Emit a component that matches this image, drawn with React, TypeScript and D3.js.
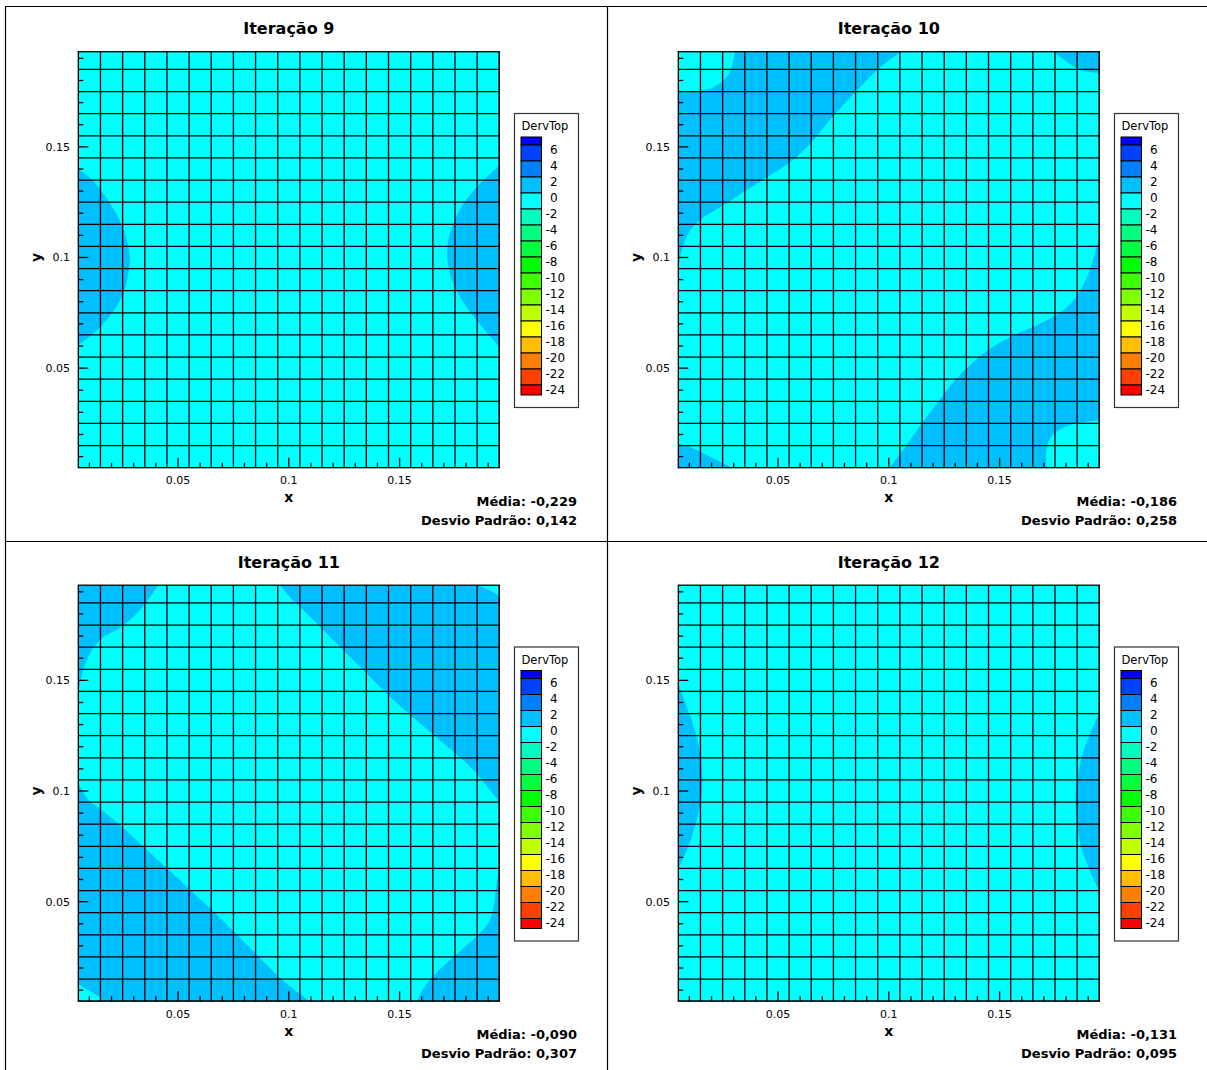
import React from 'react';
import * as d3 from 'd3';

type Pt = [number, number];
interface Region {
  band: number;
  curve: Pt[];
  close: Pt[];
}

// panel texts
const panelTitles = ['Iteração 9', 'Iteração 10', 'Iteração 11', 'Iteração 12'];
const meanLabels = ['-0,229', '-0,186', '-0,090', '-0,131'];
const stdLabels = ['0,142', '0,258', '0,307', '0,095'];

// mesh nodes (cell centres) and axis ranges
const meshNodes = [
  0.005, 0.015, 0.025, 0.035, 0.045, 0.055, 0.065, 0.075, 0.085, 0.095,
  0.105, 0.115, 0.125, 0.135, 0.145, 0.155, 0.165, 0.175, 0.185, 0.195,
];
const xDomain: [number, number] = [0.005, 0.195];
const yDomain: [number, number] = [0.005, 0.193];
const axisTicks = [
  0.01, 0.02, 0.03, 0.04, 0.05, 0.06, 0.07, 0.08, 0.09, 0.1,
  0.11, 0.12, 0.13, 0.14, 0.15, 0.16, 0.17, 0.18, 0.19,
];
const majorTicks = [0.05, 0.1, 0.15];
const majorTickLabels = ['0.05', '0.1', '0.15'];

// contour legend
const legendTitle = 'DervTop';
const legendLevels = [6, 4, 2, 0, -2, -4, -6, -8, -10, -12, -14, -16, -18, -20, -22, -24];
const bandColors = [
  '#0000ff', '#0040ff', '#0080ff', '#00bfff', '#00ffff', '#00ffbf', '#00ff80', '#00ff40',
  '#00ff00', '#40ff00', '#80ff00', '#bfff00', '#ffff00', '#ffbf00', '#ff8000', '#ff4000', '#ff0000',
];
const backgroundBand = 4; // -2 .. 0

// regions of the DervTop field that fall in another band
const iter9Regions: Region[] = [
  {
    band: 3,
    curve: [[0.005, 0.140], [0.0118, 0.1345], [0.0193, 0.1245], [0.0246, 0.1148], [0.0276, 0.1047],
      [0.0283, 0.0987], [0.0276, 0.0927], [0.0253, 0.0836], [0.02, 0.0746], [0.0118, 0.0656], [0.005, 0.0603]],
    close: [[0, 0.0603], [0, 0.140]],
  },
  {
    band: 3,
    curve: [[0.195, 0.1415], [0.1848, 0.1318], [0.1765, 0.1205], [0.1727, 0.1107], [0.1715, 0.1032],
      [0.1727, 0.0927], [0.1773, 0.0821], [0.1848, 0.0716], [0.195, 0.0596]],
    close: [[0.2, 0.0596], [0.2, 0.1415]],
  },
];

const iter10Regions: Region[] = [
  {
    band: 3,
    curve: [[0.005, 0.0942], [0.0065, 0.1032], [0.0103, 0.1122], [0.0155, 0.1175], [0.0238, 0.1227],
      [0.0343, 0.1295], [0.0449, 0.1363], [0.0554, 0.143], [0.0644, 0.1513], [0.075, 0.1641],
      [0.0855, 0.1754], [0.0953, 0.1852], [0.105, 0.1927]],
    close: [[0.105, 0.2], [0, 0.2], [0, 0.0942]],
  },
  {
    band: 4,
    curve: [[0.0305, 0.1927], [0.0295, 0.1874], [0.0268, 0.1814], [0.0208, 0.1769], [0.0133, 0.175], [0.005, 0.1746]],
    close: [[0, 0.1746], [0, 0.2], [0.0305, 0.2]],
  },
  {
    band: 3,
    curve: [[0.175, 0.1927], [0.1795, 0.189], [0.1855, 0.1852], [0.1908, 0.1837], [0.195, 0.1834]],
    close: [[0.2, 0.1834], [0.2, 0.2], [0.175, 0.2]],
  },
  {
    band: 3,
    curve: [[0.195, 0.1092], [0.193, 0.1017], [0.19, 0.0927], [0.1855, 0.0836], [0.1788, 0.0761],
      [0.1682, 0.0701], [0.1562, 0.0648], [0.1457, 0.0588], [0.1374, 0.0521], [0.1306, 0.0453],
      [0.1239, 0.037], [0.1171, 0.028], [0.1111, 0.0197], [0.1058, 0.0122], [0.1005, 0.005]],
    close: [[0.1005, 0], [0.2, 0], [0.2, 0.1092]],
  },
  {
    band: 4,
    curve: [[0.195, 0.0265], [0.1863, 0.0253], [0.178, 0.0227], [0.1727, 0.0182], [0.1709, 0.0122], [0.1712, 0.005]],
    close: [[0.1712, 0], [0.2, 0], [0.2, 0.0265]],
  },
  {
    band: 3,
    curve: [[0.005, 0.016], [0.0118, 0.0137], [0.0193, 0.01], [0.0268, 0.0062], [0.0291, 0.005]],
    close: [[0.0291, 0], [0, 0], [0, 0.016]],
  },
];

const iter11Regions: Region[] = [
  {
    band: 3,
    curve: [[0.0411, 0.193], [0.0358, 0.1855], [0.0306, 0.1794], [0.0231, 0.1734], [0.0155, 0.1689],
      [0.011, 0.1636], [0.008, 0.1569], [0.0061, 0.1501], [0.0052, 0.1448]],
    close: [[0, 0.1448], [0, 0.2], [0.0411, 0.2]],
  },
  {
    band: 3,
    curve: [[0.096, 0.193], [0.1005, 0.1877], [0.1081, 0.1802], [0.1171, 0.1712], [0.1261, 0.1621],
      [0.1351, 0.1531], [0.1442, 0.1441], [0.1532, 0.1358], [0.1637, 0.1268], [0.1742, 0.1178],
      [0.1833, 0.1095], [0.1908, 0.1005], [0.195, 0.0952]],
    close: [[0.2, 0.0952], [0.2, 0.2], [0.096, 0.2]],
  },
  {
    band: 4,
    curve: [[0.1848, 0.193], [0.1901, 0.1911], [0.195, 0.1881]],
    close: [[0.2, 0.1881], [0.2, 0.2], [0.1848, 0.2]],
  },
  {
    band: 3,
    curve: [[0.005, 0.1035], [0.0095, 0.096], [0.0163, 0.0907], [0.0246, 0.0839], [0.0343, 0.0749],
      [0.0449, 0.0652], [0.0554, 0.0554], [0.0659, 0.0456], [0.0765, 0.0351], [0.087, 0.0245],
      [0.096, 0.0155], [0.1043, 0.0088], [0.1096, 0.005]],
    close: [[0.1096, 0], [0, 0], [0, 0.1035]],
  },
  {
    band: 4,
    curve: [[0.005, 0.0125], [0.0095, 0.01], [0.014, 0.0073], [0.0163, 0.005]],
    close: [[0.0163, 0], [0, 0], [0, 0.0125]],
  },
  {
    band: 3,
    curve: [[0.195, 0.0652], [0.1935, 0.0569], [0.1925, 0.0479], [0.19, 0.0403], [0.1848, 0.0343],
      [0.1773, 0.0276], [0.1697, 0.0208], [0.1637, 0.0148], [0.16, 0.0095], [0.158, 0.005]],
    close: [[0.158, 0], [0.2, 0], [0.2, 0.0652]],
  },
];

const iter12Regions: Region[] = [
  {
    band: 3,
    curve: [[0.005, 0.1486], [0.008, 0.1403], [0.0115, 0.1305], [0.014, 0.1215], [0.0155, 0.1125],
      [0.0158, 0.102], [0.0148, 0.093], [0.0125, 0.0839], [0.0095, 0.0749], [0.0058, 0.0667], [0.005, 0.0652]],
    close: [[0, 0.0652], [0, 0.1486]],
  },
  {
    band: 3,
    curve: [[0.195, 0.1351], [0.1915, 0.1276], [0.1878, 0.1178], [0.1855, 0.1081], [0.1843, 0.0975],
      [0.1848, 0.0869], [0.1863, 0.0764], [0.19, 0.0659], [0.195, 0.0546]],
    close: [[0.2, 0.0546], [0.2, 0.1351]],
  },
];

const panelRegions = [iter9Regions, iter10Regions, iter11Regions, iter12Regions];
const panelOffsets: Pt[] = [[0, 0], [600, 0], [0, 533.5], [600, 533.5]];

const W = 1207;
const H = 1070;
const plot = { left: 78.3, right: 499.3, top: 51.7, bottom: 467.7 };
const sansFont = '"DejaVu Sans", Verdana, sans-serif';

const isMajor = (t: number) => majorTicks.some(m => Math.abs(m - t) < 1e-9);

function Panel({ index }: { index: number }) {
  const [ox, oy] = panelOffsets[index];
  const x = d3.scaleLinear().domain(xDomain).range([plot.left, plot.right]);
  const y = d3.scaleLinear().domain(yDomain).range([plot.bottom, plot.top]);
  const line = d3.line<Pt>().x(d => x(d[0])).y(d => y(d[1])).curve(d3.curveCatmullRom.alpha(0.5));
  const regionPath = (r: Region) =>
    (line(r.curve) || '') + r.close.map(p => `L${x(p[0])},${y(p[1])}`).join('') + 'Z';

  const ls = d3.scaleLinear().domain([6, -24]).range([145, 385]);
  const clipId = `plot-clip-${index}`;
  const midX = (plot.left + plot.right) / 2;

  return (
    <g transform={`translate(${ox},${oy})`}>
      <text x={midX} y={34} textAnchor="middle" fontFamily={sansFont} fontWeight="bold" fontSize={16}>
        {panelTitles[index]}
      </text>

      <defs>
        <clipPath id={clipId}>
          <rect x={plot.left} y={plot.top} width={plot.right - plot.left} height={plot.bottom - plot.top} />
        </clipPath>
      </defs>

      <g clipPath={`url(#${clipId})`}>
        <rect x={plot.left} y={plot.top} width={plot.right - plot.left} height={plot.bottom - plot.top}
          fill={bandColors[backgroundBand]} />
        {panelRegions[index].map((r, i) => (
          <path key={i} d={regionPath(r)} fill={bandColors[r.band]} stroke="none" />
        ))}
        {meshNodes.map(v => (
          <line key={`vx${v}`} x1={x(v)} x2={x(v)} y1={plot.top} y2={plot.bottom} stroke="#000" strokeWidth={1.3} />
        ))}
        {meshNodes.filter(v => v <= yDomain[1]).map(v => (
          <line key={`hy${v}`} x1={plot.left} x2={plot.right} y1={y(v)} y2={y(v)} stroke="#000" strokeWidth={1.3} />
        ))}
      </g>
      <rect x={plot.left} y={plot.top} width={plot.right - plot.left} height={plot.bottom - plot.top}
        fill="none" stroke="#000" strokeWidth={1.3} />

      {/* ticks point inwards */}
      {axisTicks.map(t => (
        <line key={`ty${t}`} x1={plot.left} x2={plot.left + (isMajor(t) ? 10 : 5)} y1={y(t)} y2={y(t)}
          stroke="#000" strokeWidth={1.3} />
      ))}
      {axisTicks.map(t => (
        <line key={`tx${t}`} y1={plot.bottom} y2={plot.bottom - (isMajor(t) ? 10 : 5)} x1={x(t)} x2={x(t)}
          stroke="#000" strokeWidth={1.3} />
      ))}
      {majorTicks.map((t, i) => (
        <text key={`ly${t}`} x={70} y={y(t) + 4} textAnchor="end" fontFamily={sansFont} fontSize={11}>
          {majorTickLabels[i]}
        </text>
      ))}
      {majorTicks.map((t, i) => (
        <text key={`lx${t}`} x={x(t)} y={484} textAnchor="middle" fontFamily={sansFont} fontSize={11}>
          {majorTickLabels[i]}
        </text>
      ))}
      <text x={midX} y={502} textAnchor="middle" fontFamily={sansFont} fontWeight="bold" fontSize={14}>x</text>
      <text transform={`translate(41,${y(0.1)}) rotate(-90)`} textAnchor="middle" fontFamily={sansFont}
        fontWeight="bold" fontSize={14}>y</text>

      {/* legend */}
      <rect x={514.5} y={113.5} width={64} height={294} fill="#fff" stroke="#333" strokeWidth={1.2} />
      <text x={521.5} y={130} fontFamily={sansFont} fontSize={11.5}>{legendTitle}</text>
      {bandColors.map((c, i) => {
        const top = i === 0 ? ls(7) : ls(legendLevels[i - 1]);
        const bottom = i === bandColors.length - 1 ? ls(-25.25) : ls(legendLevels[i]);
        return <rect key={c} x={521} y={top} width={20.5} height={bottom - top} fill={c} stroke="#000" strokeWidth={1} />;
      })}
      {legendLevels.map(v => (
        <text key={`lv${v}`} x={v < 0 ? 545.5 : 550} y={ls(v) + 8.5} fontFamily={sansFont} fontSize={12}>
          {v}
        </text>
      ))}

      <text x={577} y={505.5} textAnchor="end" fontFamily={sansFont} fontWeight="bold" fontSize={13}>
        {`Média: ${meanLabels[index]}`}
      </text>
      <text x={577} y={524.5} textAnchor="end" fontFamily={sansFont} fontWeight="bold" fontSize={13}>
        {`Desvio Padrão: ${stdLabels[index]}`}
      </text>
    </g>
  );
}

export default function App() {
  return (
    <svg width={W} height={H} style={{ position: 'absolute', left: 0, top: 0, background: '#fff' }}>
      <rect x={0} y={0} width={W} height={H} fill="#fff" />
      {panelTitles.map((_, i) => <Panel key={i} index={i} />)}
      <line x1={5.5} x2={5.5} y1={6} y2={H} stroke="#000" strokeWidth={1.2} />
      <line x1={5} x2={W} y1={6.5} y2={6.5} stroke="#000" strokeWidth={1.2} />
      <line x1={607.5} x2={607.5} y1={6} y2={H} stroke="#000" strokeWidth={1.2} />
      <line x1={5} x2={W} y1={541.5} y2={541.5} stroke="#000" strokeWidth={1.2} />
    </svg>
  );
}
